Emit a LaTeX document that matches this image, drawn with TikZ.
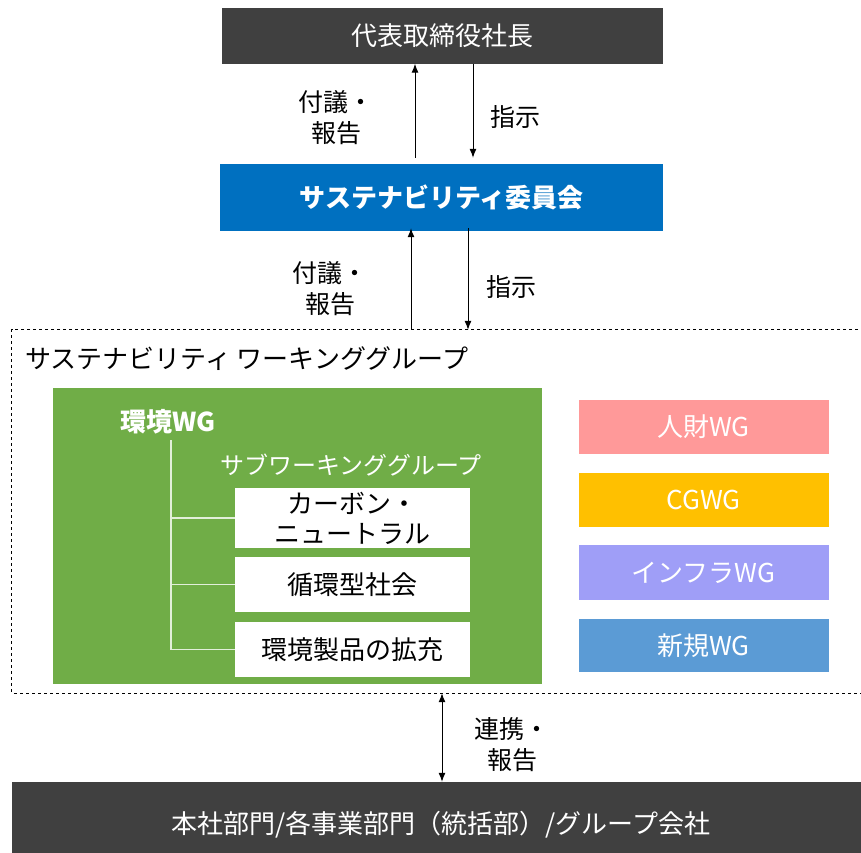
\documentclass[tikz,border=0pt]{standalone}
\usepackage{fontspec}
\setmainfont{Noto Sans CJK JP}
\usetikzlibrary{arrows.meta,calc}
\definecolor{darkbox}{HTML}{404040}
\definecolor{bluebox}{HTML}{0070C0}
\definecolor{greenbox}{HTML}{70AD47}
\definecolor{pinkbox}{HTML}{FF9999}
\definecolor{goldbox}{HTML}{FFC000}
\definecolor{lavbox}{HTML}{9F9EF7}
\definecolor{skybox}{HTML}{5B9BD5}
\definecolor{treecol}{HTML}{E2EFDA}
\tikzset{
  x=1pt, y=-1pt,
  boxbase/.style={rectangle, inner sep=0pt, align=center, font=\fontsize{26}{32}\selectfont},
  darkrect/.style={boxbase, fill=darkbox, text=white},
  wgrect/.style={boxbase, text=white, minimum width=250pt, minimum height=54pt},
  subrect/.style={boxbase, fill=white, text=black, minimum width=235pt},
  lbl/.style={inner sep=0pt, align=center, font=\fontsize{25}{31}\selectfont},
  arr/.style={line width=1pt, -{Latex[length=9pt,width=7pt]}},
  darr/.style={line width=1pt, {Latex[length=9pt,width=7pt]}-{Latex[length=9pt,width=7pt]}},
  treeline/.style={draw=treecol, line width=1.5pt},
  framestyle/.style={dashed, line width=0.8pt},
}
\begin{document}
\begin{tikzpicture}
\useasboundingbox (0,0) rectangle (861,852);
% top
\node[darkrect, minimum width=441pt, minimum height=56pt] (ceo) at (442.5,35.5) {代表取締役社長};
\node[boxbase, fill=bluebox, text=white, minimum width=443pt, minimum height=67pt, font=\fontsize{26}{32}\selectfont\bfseries] (comm) at (441.5,197.5) {サステナビリティ委員会};
% frame (open on the right)
\node[rectangle, inner sep=0pt, minimum width=852pt, minimum height=363pt] (frame) at (438,511.5) {};
\draw[framestyle] (frame.north east) -- (frame.north west) -- (frame.south west) -- (frame.south east);
\node[inner sep=0pt, anchor=west, font=\fontsize{26}{32}\selectfont] (frametitle) at (25,359) {サステナビリティ ワーキンググループ};
% green
\node[boxbase, fill=greenbox, minimum width=489pt, minimum height=296pt] (green) at (297.5,536) {};
\node[inner sep=0pt, anchor=west, text=white, font=\fontsize{26}{32}\selectfont\bfseries] (envwg) at (120,422) {環境WG};
\node[inner sep=0pt, anchor=west, text=white, font=\fontsize{24}{30}\selectfont] (subwg) at (220,465) {サブワーキンググループ};
\node[subrect, minimum height=60pt, font=\fontsize{26}{30}\selectfont] (s1) at (352.5,518) {カーボン・\\ニュートラル};
\node[subrect, minimum height=55pt] (s2) at (352.5,584.5) {循環型社会};
\node[subrect, minimum height=55pt] (s3) at (352.5,649.5) {環境製品の拡充};
\coordinate (treetop) at (171,440);
\draw[treeline] (treetop) |- (s3.west);
\draw[treeline] (treetop |- s1.west) -- (s1.west);
\draw[treeline] (treetop |- s2.west) -- (s2.west);
% right WGs
\node[wgrect, fill=pinkbox] (hr) at (703.5,426.5) {人財WG};
\node[wgrect, fill=goldbox] (cg) at (703.5,500) {CGWG};
\node[wgrect, fill=lavbox, minimum height=55pt] (infra) at (703.5,572.5) {インフラWG};
\node[wgrect, fill=skybox, minimum height=53pt] (new) at (703.5,645.5) {新規WG};
% bottom
\node[darkrect, minimum width=870pt, minimum height=71pt] (base) at (447,817.5) {};
\node[inner sep=0pt, text=white, font=\fontsize{26}{32}\selectfont] (basetext) at (441,825) {本社部門/各事業部門（統括部）/グループ会社};
% arrows top
\draw[arr] ([xshift=-26.5pt,yshift=6pt]comm.north) -- ([xshift=-26.5pt]comm.north |- ceo.south);
\draw[arr] ([xshift=31.5pt]comm.north |- ceo.south) -- ([xshift=31.5pt,yshift=6pt]comm.north);
\node[lbl] (l1) at (336,118) {付議・\\報告};
\node[lbl] (l2) at (515,117) {指示};
% arrows middle
\draw[arr] (411,0 |- frame.north) -- ([yshift=3pt]411,0 |- comm.south);
\draw[arr] ([yshift=3pt]468,0 |- comm.south) -- (468,0 |- frame.north);
\node[lbl] (l3) at (330,289) {付議・\\報告};
\node[lbl] (l4) at (511,287) {指示};
% arrow bottom
\draw[darr] (442,0 |- frame.south) -- (442,0 |- base.north);
\node[lbl] (l5) at (512,745) {連携・\\報告};
\end{tikzpicture}
\end{document}
